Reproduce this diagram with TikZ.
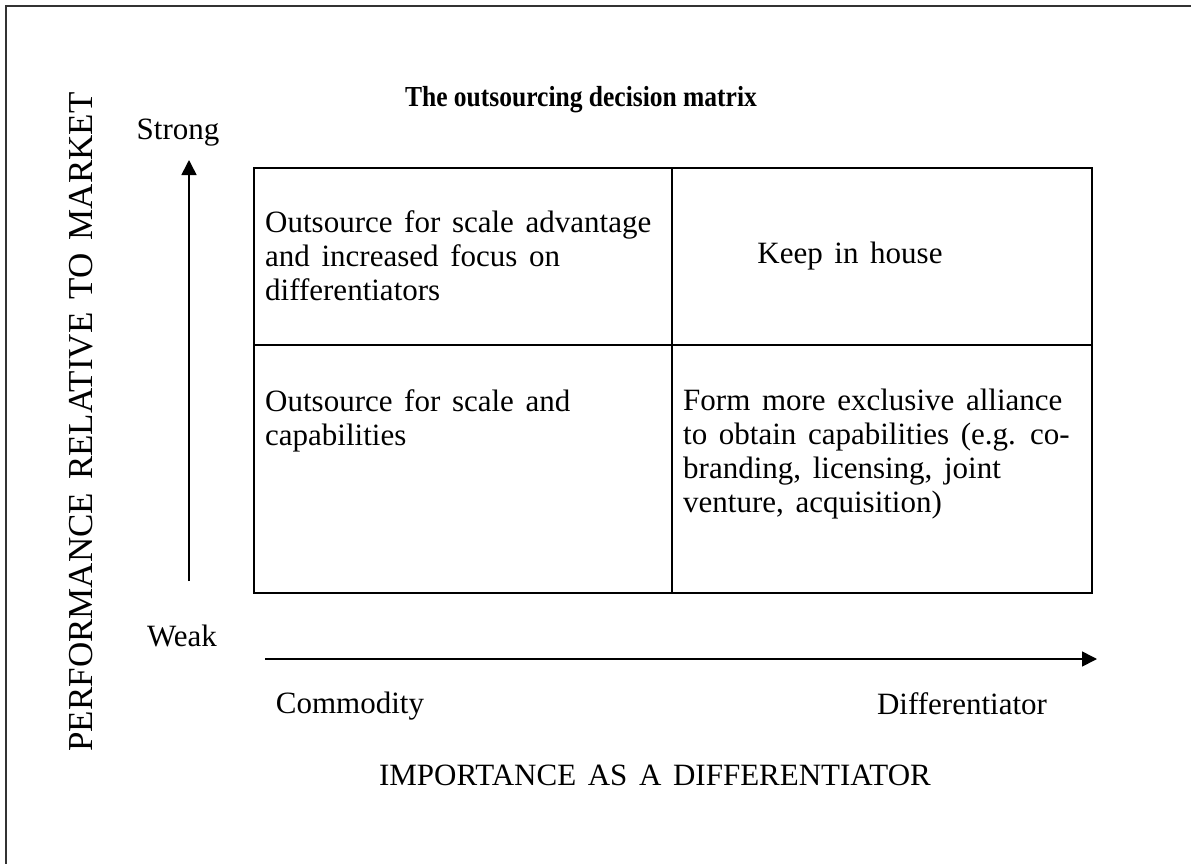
\documentclass[tikz,border=0pt]{standalone}
\usepackage{fontspec}
\setmainfont[WordSpace=1.5]{Liberation Serif}
\newfontfamily\titlefont[FakeStretch=0.88]{Liberation Serif}
\usetikzlibrary{arrows.meta}
\begin{document}
\begin{tikzpicture}[x=1pt,y=-1pt,
  txt/.style={font=\fontsize{31}{34}\selectfont, inner sep=0pt},
  celltxt/.style={txt, align=left, anchor=north west},
  cellline/.style={line width=2pt, black},
  axis/.style={line width=1.6pt, -{Triangle[length=15pt,width=15pt]}},
  frameline/.style={line width=2pt, black!80}]
\useasboundingbox (0,0) rectangle (1191,864);
% outer frame (right and bottom edges lie outside the picture)
\draw[frameline] (6,900) -- (6,6) -- (1230,6);
% title
\node[txt, font=\titlefont\fontsize{29}{32}\selectfont\bfseries] (title) at (581,100) {The outsourcing decision matrix};
% vertical axis
\node[txt] (strong) at (178,133) {Strong};
\node[txt] (weak) at (182,636) {Weak};
\node[txt, font=\fontsize{35}{38}\selectfont, rotate=90] (ylabel) at (81,422) {PERFORMANCE RELATIVE TO MARKET};
\coordinate (vbot) at (189,581);
\coordinate (vtop) at (189,160);
\draw[axis] (vbot) -- (vtop);
% horizontal axis
\coordinate (hleft) at (265,659);
\coordinate (hright) at (1097,659);
\draw[axis] (hleft) -- (hright);
\node[txt] (commodity) at (350,706) {Commodity};
\node[txt] (differentiator) at (962,704) {Differentiator};
\node[txt] (xlabel) at (655,775) {IMPORTANCE AS A DIFFERENTIATOR};
% matrix
\draw[cellline] (254,168) rectangle (1092,593);
\draw[cellline] (672,168) -- (672,593);
\draw[cellline] (254,345) -- (1092,345);
% cell texts
\node[celltxt] (tl) at (265,210) {Outsource for scale advantage\\and increased focus on\\differentiators};
\node[txt] (tr) at (850,256) {Keep in house};
\node[celltxt] (bl) at (265,389) {Outsource for scale and\\capabilities};
\node[celltxt] (br) at (683,389) {Form more exclusive alliance\\to obtain capabilities (e.g. co-\\branding, licensing, joint\\venture, acquisition)};
\end{tikzpicture}
\end{document}
